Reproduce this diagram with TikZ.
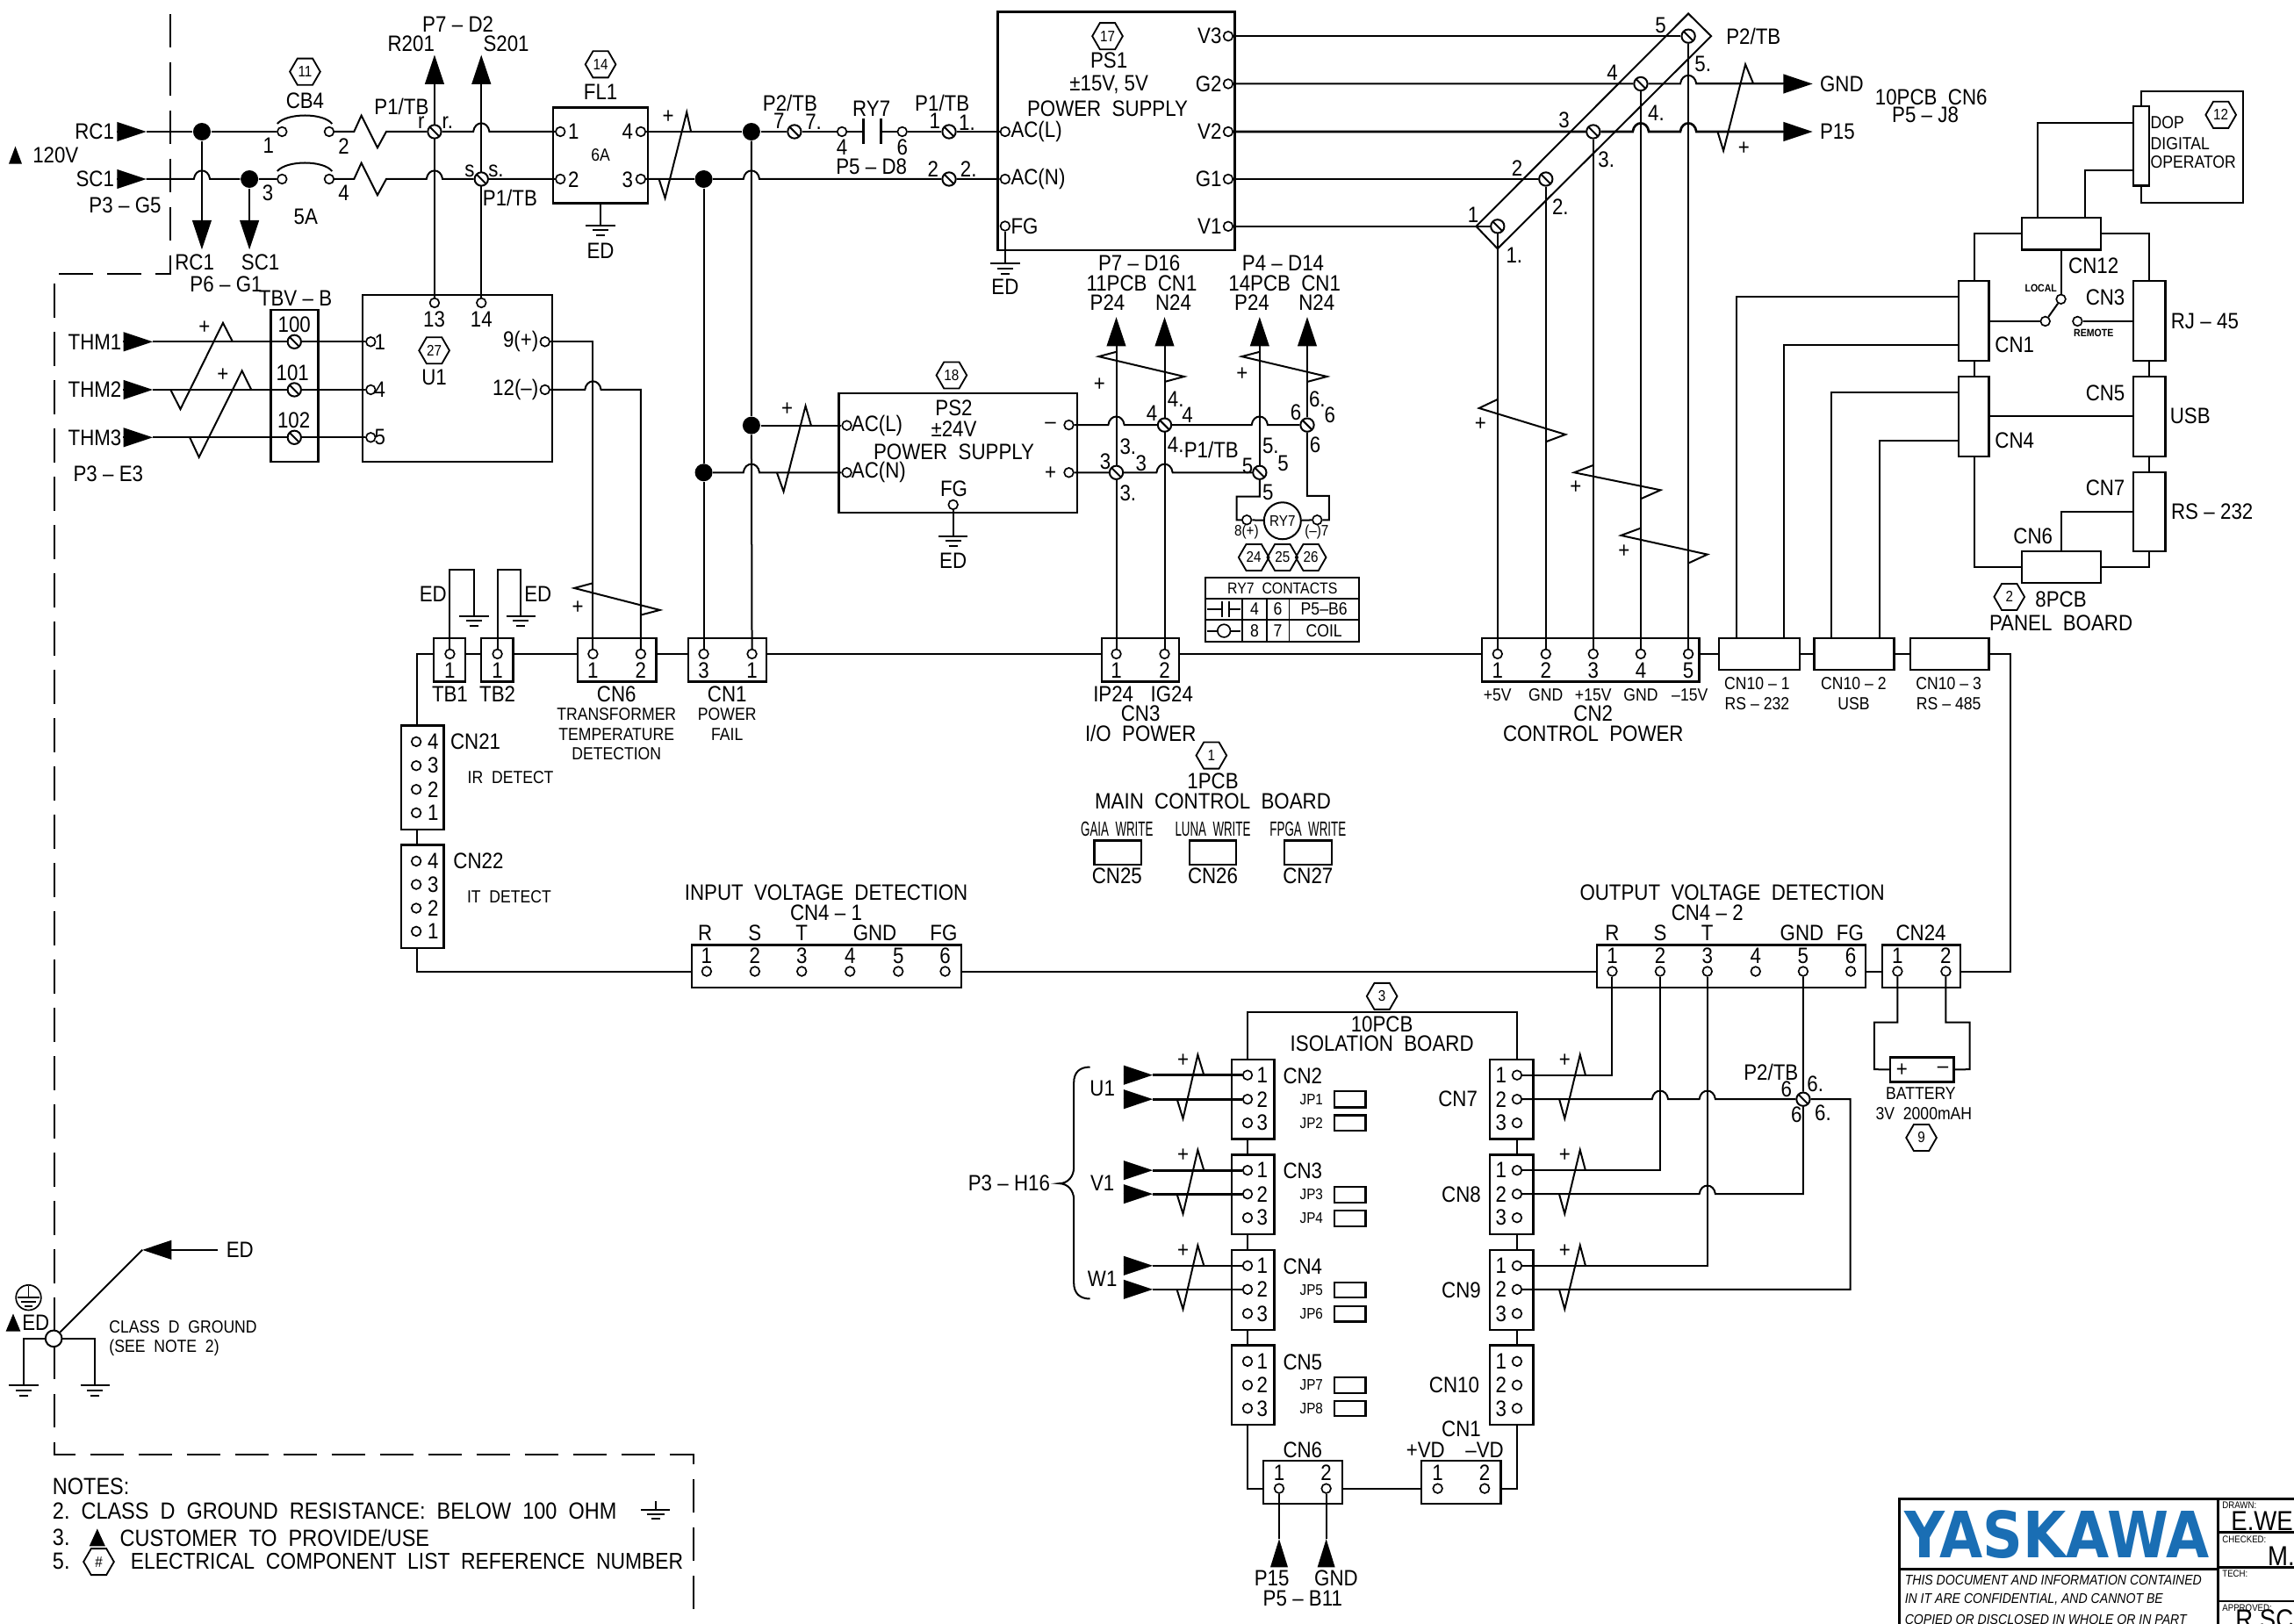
\documentclass[tikz,border=0pt]{standalone}
\usepackage{fontspec}
\usepackage{graphicx}
\setmainfont{Liberation Sans}[FakeStretch=0.88]
\newfontfamily\lgf{DejaVu Sans}
\usetikzlibrary{arrows.meta,shapes.geometric}
\pgfdeclarelayer{bgl}\pgfdeclarelayer{wires}\pgfsetlayers{bgl,wires,main}
\definecolor{yblue}{HTML}{1A6EB4}
\newcounter{lc}
\newcommand\lb[4][]{\stepcounter{lc}\node[lab,#1] (L\thelc) at (#2,#3) {#4};}
\newcommand\hexn[4]{\node[hexa] (#1) at (#2,#3) {#4};}
\newcommand\pn[3]{\node[pinn] (#1) at (#2,#3) {};}
\newcommand\scw[3]{\node[scr] (#1) at (#2,#3) {};}
\newcommand\jc[3]{\node[jct] (#1) at (#2,#3) {};}
\newcommand\cd[3]{\coordinate (#1) at (#2,#3);}
\newcommand\ds{\kern.25em--\kern.25em}
\newcommand\bxn[5]{\node[bx,minimum width={(#4-#2)*0.5pt},minimum height={(#5-#3)*0.5pt}] (#1) at ({(#2+#4)/2},{(#3+#5)/2}) {};}
\newcommand\gnd[2]{\draw[w] (#1-10,#2) -- (#1+10,#2) (#1-5.5,#2+3.5) -- (#1+5.5,#2+3.5) (#1-3,#2+7) -- (#1+3,#2+7);}
\def\hp#1#2{-- (#1-5.5,#2) .. controls (#1-4.5,#2-7.7) and (#1+4.5,#2-7.7) .. (#1+5.5,#2)}
\tikzset{
 lab/.style={inner sep=0pt,outer sep=0pt,align=center,font=\fontsize{7.6}{8}\selectfont},
 sm/.style={font=\fontsize{6}{6.5}\selectfont},
 xs/.style={font=\fontsize{5.2}{5.5}\selectfont},
 th/.style={font=\fontsize{5.4}{5.5}\selectfont},
 wr/.style={font=\fontsize{7}{7.5}\selectfont},
 tn/.style={font=\fontsize{3.6}{4}\bfseries\selectfont},
 it/.style={font=\fontsize{4.8}{5}\itshape\selectfont},
 tt/.style={font=\fontsize{3.3}{3.5}\selectfont},
 nt/.style={font=\fontsize{8}{8.5}\selectfont},
 bg/.style={font=\fontsize{9.4}{10}\selectfont},
 hexa/.style={draw,line width=0.55pt,regular polygon,regular polygon sides=6,minimum size=10.4pt,inner sep=0pt,font=\fontsize{5.2}{5.5}\selectfont},
 w/.style={line width=0.6pt},
 ar/.style={-{Triangle[length=10pt,width=6.5pt]}},
 bx/.style={draw,line width=0.7pt,inner sep=0pt,outer sep=0pt},
 pinn/.style={circle,draw,fill=white,line width=0.5pt,minimum size=3.2pt,inner sep=0pt},
 scr/.style={circle,draw,fill=white,line width=0.6pt,minimum size=4.6pt,inner sep=0pt,
   path picture={\draw[line width=0.6pt] (path picture bounding box.north west) -- (path picture bounding box.south east);}},
 jct/.style={circle,fill=black,minimum size=6pt,inner sep=0pt},
 dsh/.style={line width=0.6pt,dash pattern=on 11.5pt off 5pt},
}
\begin{document}
\begin{tikzpicture}[x=0.5pt,y=-0.5pt]
\useasboundingbox (0,0) rectangle (1568,1109.6);
\begin{pgfonlayer}{bgl}\fill[white] (0,0) rectangle (1568,1109.6);\end{pgfonlayer}
\clip (0,0) rectangle (1568,1109.6);
% ---- helper coordinates
\cd{busT}{0}{447}\cd{busB}{0}{664}\cd{isoL}{852.7}{0}\cd{isoR}{1036.9}{0}
\cd{bL}{285}{0}\cd{panL}{1349.6}{0}\cd{panR}{1469}{0}
% ---- top left
\cd{rc1b}{80}{90}\cd{rc1t}{100}{90}\cd{sc1b}{80}{122.4}\cd{sc1t}{100}{122.4}
\jc{jA}{138}{90}\jc{jB}{170.5}{122.4}
\cd{rcd}{138}{170.6}\cd{scd}{170.5}{170.6}
\pn{cbA}{192.8}{90}\pn{cbB}{225}{90}\pn{cbC}{192.8}{122.4}\pn{cbD}{225}{122.4}
\scw{scrR}{297}{90}\scw{scrS}{329}{122.4}
\cd{r201}{297}{37.5}\cd{s201}{329}{37.5}
\bxn{fl1box}{378}{73.5}{443}{139}
\pn{flA}{383}{90}\pn{flB}{383}{122.4}\pn{flD}{438}{90}\pn{flC}{438}{122.4}
\jc{jE}{513.6}{90}\jc{jF}{481}{122.4}\jc{jC}{513.6}{290.8}\jc{jD}{481}{323}
\scw{scr7}{543}{90}\pn{ryA}{575.5}{90}\pn{ryB}{616.7}{90}\scw{scr1}{648.7}{90}\scw{scr2}{648.7}{122.4}
\cd{cL}{590}{90}\cd{cR}{602}{90}
% ---- PS1
\bxn{ps1}{682}{8}{844}{171}
\pn{acL}{687}{90}\pn{acN}{687}{122.4}\pn{fg1}{687}{154.5}
\pn{v3}{839.5}{24.7}\pn{g2}{839.5}{57.3}\pn{v2}{839.5}{90}\pn{g1}{839.5}{122.4}\pn{v1}{839.5}{154.7}
\scw{t5}{1154}{24.7}\scw{t4}{1121.5}{57.3}\scw{t3}{1089}{90}\scw{t2}{1056.6}{122.4}\scw{t1}{1023.6}{154.7}
\cd{gndT}{1239}{57.3}\cd{p15T}{1239}{90}
% ---- TBV / U1
\cd{th1b}{84}{233.6}\cd{th1t}{104.4}{233.6}\cd{th2b}{84}{266.4}\cd{th2t}{104.4}{266.4}\cd{th3b}{84}{299}\cd{th3t}{104.4}{299}
\bxn{tbv}{185.2}{212}{217.6}{315.5}\bxn{u1}{248}{201.5}{377.6}{315.5}
\scw{tv0}{201.2}{233.6}\scw{tv1}{201.2}{266.4}\scw{tv2}{201.2}{299}
\pn{uA}{253.4}{233.6}\pn{uB}{253.4}{266.4}\pn{uC}{253.4}{299}
\pn{u13}{297}{207}\pn{u14}{329}{207}\pn{u9}{372.5}{233.6}\pn{u12}{372.5}{266.4}
% ---- PS2
\bxn{ps2}{573.4}{268.8}{736.4}{350.5}
\pn{ps2l}{578.8}{290.8}\pn{ps2n}{578.8}{323}\pn{ps2m}{730.6}{290.5}\pn{ps2p}{730.6}{323}\pn{ps2f}{651.5}{345}
\scw{t4b}{796}{290.5}\scw{t6b}{893.5}{290.5}\scw{t3b}{763}{323}\scw{t5b}{861}{323}
\cd{p24a}{763}{216.7}\cd{n24a}{796}{216.7}\cd{p24b}{861}{216.7}\cd{n24b}{893.5}{216.7}
\node[circle,draw,line width=0.6pt,minimum size=12.6pt,inner sep=0pt,font=\fontsize{5.2}{5.5}\selectfont] (ry7) at (876.6,356) {RY7};
\pn{ry8}{852.2}{355.4}\pn{ry77}{900.3}{355.4}
% ---- lower bus boxes
\bxn{tb1}{296.5}{436.4}{318}{466}\bxn{tb2}{329}{436.4}{350.7}{466}
\bxn{c6}{394.8}{436.4}{448.5}{466}\bxn{c1}{470.5}{436.4}{524}{466}\bxn{c3}{753}{436.4}{806}{466}
\bxn{c2}{1013}{436.4}{1161.5}{466}
\bxn{c101}{1175}{436.4}{1230}{458}\bxn{c102}{1240}{436.4}{1294.6}{458}\bxn{c103}{1305.6}{436.4}{1359.5}{458}
\pn{p1a}{307.5}{447}\pn{p2a}{340}{447}\pn{p6a}{405.3}{447}\pn{p6b}{438}{447}\pn{p13}{481}{447}\pn{p11}{514}{447}
\pn{p3a}{763}{447}\pn{p3b}{796}{447}
\pn{q1}{1023.6}{447}\pn{q2}{1056.6}{447}\pn{q3}{1089}{447}\pn{q4}{1121.5}{447}\pn{q5}{1154}{447}
\bxn{c21}{274.4}{496}{303.4}{567}\bxn{c22}{274.4}{577.6}{303.4}{648}
\foreach \n/\y in {a/507,b/523.4,c/539.6,d/555.6,e/588.6,f/604.6,g/620.8,h/636.6}{\pn{cn\n}{284.5}{\y}}
\bxn{w25}{748}{574.6}{780}{591}\bxn{w26}{813}{574.6}{845}{591}\bxn{w27}{878}{574.6}{910.5}{591}
\bxn{c41}{473}{646}{657}{675}\bxn{c42}{1091.5}{646}{1275}{675}\bxn{c24}{1286.7}{646}{1340}{675}
\foreach \x [count=\i] in {483,516,548,581,614,646}{\pn{ia\i}{\x}{664}}
\foreach \x [count=\i] in {1102,1134.7,1167,1200,1232.5,1265}{\pn{oa\i}{\x}{664}}
\pn{b1}{1297}{664}\pn{b2}{1330}{664}
\bxn{batt}{1291.8}{722.7}{1335.4}{739.5}
% ---- panel
\bxn{dopc}{1458}{72.7}{1469}{127}
\bxn{cn12}{1382}{149}{1436}{170.7}\bxn{pc1}{1338.6}{192}{1359.5}{246.7}\bxn{rj}{1458}{192}{1480}{246.7}
\bxn{pc4}{1338.6}{257.4}{1359.5}{312}\bxn{usb}{1458}{257.4}{1480}{312}\bxn{rs}{1458}{323}{1480}{377}
\bxn{pc6}{1382}{377}{1436}{398.5}
\pn{swA}{1398}{219.6}\pn{swB}{1408.7}{204.5}\pn{swC}{1420}{219.6}
% ---- isolation board
\foreach \n/\ya/\yb in {cn2/724.2/778.6,cn3/789.3/843.8,cn4/854.5/909,cn5/919.6/974}{\bxn{\n}{841.7}{\ya}{871}{\yb}}
\foreach \n/\ya/\yb in {cn7/724.2/778.6,cn8/789.3/843.8,cn9/854.5/909,cn10/919.6/974}{\bxn{\n}{1018.5}{\ya}{1048}{\yb}}
\foreach \n/\y in {a/734.9,b/751.4,c/767.6,d/800,e/816.2,f/832.4,g/865.2,h/881.4,i/897.9,j/930.6,k/946.8,l/962.7}{
  \pn{le\n}{852.7}{\y}\pn{ri\n}{1036.9}{\y}}
\foreach \dg/\y in {1/734.9,2/751.4,3/767.6,1/800,2/816.2,3/832.4,1/865.2,2/881.4,3/897.9,1/930.6,2/946.8,3/962.7}{
  \lb{862.8}{\y}{\dg}\lb{1026}{\y}{\dg}}
\foreach \ya/\yb/\tx [count=\i] in {746/757/JP1,762.4/773/JP2,811.3/822/JP3,827.5/838.3/JP4,876.5/887/JP5,892.7/903.4/JP6,941.6/952.3/JP7,957.8/968/JP8}{
  \bxn{jp\i}{912}{\ya}{933.5}{\yb}\lb[xs]{896.4}{{(\ya+\yb)/2}}{\tx}}
\bxn{c6b}{863.3}{998.5}{917.5}{1028}\bxn{c1b}{971.7}{998.5}{1025.9}{1028}
\pn{d1}{874.3}{1017.5}\pn{d2}{906.5}{1017.5}\pn{e1}{982.7}{1017.5}\pn{e2}{1014.8}{1017.5}
\cd{p15u}{874.3}{1052}\cd{gndu}{906.5}{1052}
\scw{t6c}{1232.5}{751.4}
% ---- ground point
\node[circle,draw,line width=0.6pt,minimum size=5.6pt,inner sep=0pt,fill=white] (edc) at (36.7,915) {};
\cd{edTip}{97.3}{854.4}\cd{edEnd}{149}{854.4}\node[lab] (edtxt) at (164,854.4) {ED};
% ---- wires
\begin{pgfonlayer}{wires}
\draw[w,ar] (rc1b) -- (rc1t); \draw[w,ar] (sc1b) -- (sc1t);
\draw[line width=0.85pt] (rc1t) -- (jA) -- (cbA);
\draw[w] (cbB) -- (242,90) -- (247,79) -- (258,101) -- (264,90) -- (scrR);
\draw[w] (scrR) \hp{329}{90} -- (flA);
\draw[w] (sc1t) \hp{138}{122.4} -- (jB) -- (cbC);
\draw[w] (cbD) -- (242,122.4) -- (247,111.4) -- (258,133.4) -- (264,122.4) \hp{297}{122.4} -- (scrS) -- (flB);
\draw[w,ar] (jA) -- (rcd); \draw[w,ar] (jB) -- (scd);
\draw[w,ar] (u13) -- (r201); \draw[w,ar] (u14) -- (s201);
\draw[w] (189.5,84.6) .. controls (196,77) and (221,77) .. (227,84.6);
\draw[w] (189.5,117) .. controls (196,109.4) and (221,109.4) .. (227,117);
\draw[w] (fl1box.south) -- (410.5,154); \gnd{410.5}{154}
\draw[line width=0.8pt] (flD) -- (jE) -- (scr7) -- (ryA) -- (cL);
\draw[w] (cR) -- (ryB) -- (scr1) -- (acL);
\draw[line width=0.8pt] (590,81) -- (590,98.6) (602,81) -- (602,98.6);
\draw[w] (flC) -- (jF) \hp{513.6}{122.4} -- (scr2) -- (acN);
\draw[w] (472.3,90) -- (469.4,76.7) -- (454.6,135.4) -- (450.4,122.4);
\draw[w] (jE) -- (jC) -- (p11); \draw[w] (jF) -- (jD) -- (p13);
\draw[w] (jC) -- (ps2l); \draw[w] (jD) \hp{513.6}{323} -- (ps2n);
\draw[w] (554.4,290.8) -- (550.6,277.5) -- (535.6,336) -- (531,323);
\draw[w] (fg1) -- (687,180); \gnd{687}{180}
% PS1 outputs
\draw[w] (v3) -- (t5); \draw[w] (v1) -- (t1); \draw[w] (g1) -- (t2);
\draw[w] (g2) -- (t4) \hp{1154}{57.3} -- (1219,57.3);
\draw[w,ar] (1160,57.3) -- (gndT);
\draw[line width=0.8pt] (v2) -- (t3) \hp{1121.5}{90} \hp{1154}{90} -- (1219,90);
\draw[w,ar] (1160,90) -- (p15T);
\draw[w] (1154,9.3) -- (1169.6,24.7) -- (1023.6,170) -- (1009,154.7) -- cycle;
\draw[w] (t5) -- (q5); \draw[w] (t4) -- (q4); \draw[w] (t3) -- (q3); \draw[w] (t2) -- (q2); \draw[w] (t1) -- (q1);
\draw[w] (1198.5,57.3) -- (1193,44) -- (1178,103) -- (1174,90);
\draw[w] (1023.6,273) -- (1011,279) -- (1070,297) -- (1056.6,302);
\draw[w] (1089,318) -- (1076,323) -- (1135,335) -- (1121.5,341);
\draw[w] (1121.5,361) -- (1108,366) -- (1167,379) -- (1154,385);
% THM
\draw[w,ar] (th1b) -- (th1t); \draw[w,ar] (th2b) -- (th2t); \draw[w,ar] (th3b) -- (th3t);
\draw[w] (th1t) -- (tv0) -- (uA); \draw[w] (th2t) -- (tv1) -- (uB); \draw[w] (th3t) -- (tv2) -- (uC);
\draw[w] (159,233.6) -- (152.4,220.7) -- (123.3,279.7) -- (116.6,266.4);
\draw[w] (171.8,266.4) -- (165.4,253.5) -- (136,312.5) -- (129.7,299);
\draw[w] (u9) -- (405.3,233.6) -- (p6a);
\draw[w] (u12) \hp{405.3}{266.4} -- (438,266.4) -- (p6b);
\draw[w] (405.3,398.6) -- (392.5,402) -- (451,417) -- (438,420.4);
% ED at TB
\draw[w] (p1a) -- (307.5,389.4) -- (324,389.4) -- (324,421); \gnd{324}{421}
\draw[w] (p2a) -- (340,389.4) -- (356,389.4) -- (356,421); \gnd{356}{421}
% PS2 outputs
\draw[w] (ps2f) -- (651.5,366.4); \gnd{651.5}{366.4}
\draw[w] (ps2m) \hp{763}{290.5} -- (t4b) \hp{861}{290.5} -- (t6b);
\draw[w] (ps2p) -- (t3b) \hp{796}{323} -- (t5b);
\draw[w,ar] (p3a) -- (p24a); \draw[w,ar] (p3b) -- (n24a);
\draw[w,ar] (t5b) -- (p24b); \draw[w,ar] (t6b) -- (n24b);
\draw[w] (763,240.5) -- (751,243.7) -- (809.4,257.4) -- (796,261);
\draw[w] (861,240.5) -- (848.8,243.7) -- (907,257.4) -- (893.5,261);
\draw[w] (t6b) -- (893.5,339) -- (908.4,339) -- (908.4,355.4) -- (ry77) -- (ry7);
\draw[w] (t5b) -- (861,339.4) -- (845.3,339.4) -- (845.3,355.4) -- (ry8) -- (ry7);
% bus
\draw[w] (c21.north -| bL) -- (bL |- busT) -- (tb1.west |- busT);
\draw[w] (tb1.east |- busT) -- (tb2.west |- busT);
\draw[w] (tb2.east |- busT) -- (c6.west |- busT);
\draw[w] (c6.east |- busT) -- (c1.west |- busT);
\draw[w] (c1.east |- busT) -- (c3.west |- busT);
\draw[w] (c3.east |- busT) -- (c2.west |- busT);
\draw[w] (c2.east |- busT) -- (c101.west |- busT);
\draw[w] (c101.east |- busT) -- (c102.west |- busT);
\draw[w] (c102.east |- busT) -- (c103.west |- busT);
\draw[w] (c103.east |- busT) -- (1374,447) -- (1374,664) -- (c24.east |- busB);
\draw[w] (c24.west |- busB) -- (c42.east |- busB);
\draw[w] (c42.west |- busB) -- (c41.east |- busB);
\draw[w] (c41.west |- busB) -- (bL |- busB) -- (c22.south -| bL);
\draw[w] (c21.south -| bL) -- (c22.north -| bL);
% panel
\draw[w] (1187,436.4) -- (1187,203) -- (1338.6,203);
\draw[w] (1219.4,436.4) -- (1219.4,236) -- (1338.6,236);
\draw[w] (1252,436.4) -- (1252,268.2) -- (1338.6,268.2);
\draw[w] (1284.8,436.4) -- (1284.8,301) -- (1338.6,301);
\draw[w] (1392.5,149) -- (1392.5,84) -- (1458,84);
\draw[w] (1425,149) -- (1425,116.3) -- (1458,116.3);
\draw[w] (1463.7,72.7) -- (1463.7,62.5) -- (1533,62.5) -- (1533,138.7) -- (1463.7,138.7) -- (1463.7,127);
\draw[w] (1382,159.7) -- (1349.6,159.7) -- (pc1.north -| panL);
\draw[w] (1436,159.7) -- (1469,159.7) -- (rj.north -| panR);
\draw[w] (pc1.south -| panL) -- (pc4.north -| panL);
\draw[w] (rj.south -| panR) -- (usb.north -| panR);
\draw[w] (usb.south -| panR) -- (rs.north -| panR);
\draw[w] (pc4.south -| panL) -- (1349.6,387.7) -- (1382,387.7);
\draw[w] (1436,387.7) -- (1469,387.7) -- (rs.south -| panR);
\draw[w] (1408.7,377) -- (1408.7,350) -- (1458,350);
\draw[w] (1359.5,284.5) -- (1458,284.5);
\draw[w] (1359.5,219.6) -- (swA);
\draw[w] (1408.7,170.7) -- (swB);
\draw[w] (swA) -- (swB);
\draw[w] (swC) -- (1458,219.6);
% isolation
\draw[w] (cn2.north -| isoL) -- (852.7,691.8) -- (1036.9,691.8) -- (cn7.north -| isoR);
\draw[w] (cn2.south -| isoL) -- (cn3.north -| isoL);
\draw[w] (cn3.south -| isoL) -- (cn4.north -| isoL);
\draw[w] (cn4.south -| isoL) -- (cn5.north -| isoL);
\draw[w] (cn7.south -| isoR) -- (cn8.north -| isoR);
\draw[w] (cn8.south -| isoR) -- (cn9.north -| isoR);
\draw[w] (cn9.south -| isoR) -- (cn10.north -| isoR);
\draw[w] (cn5.south -| isoL) -- (852.7,1017.5) -- (863.3,1017.5);
\draw[w] (917.5,1017.5) -- (971.7,1017.5);
\draw[w] (1025.9,1017.5) -- (1036.9,1017.5) -- (cn10.south -| isoR);
\draw[w] (p15u) -- (d1); \draw[w] (gndu) -- (d2);
\fill (874.3,1052) -- (868.3,1071.3) -- (880.3,1071.3) -- cycle;
\fill (906.5,1052) -- (900.5,1071.3) -- (912.5,1071.3) -- cycle;
\foreach \n/\y in {a/734.9,b/751.4,d/800,e/816.2,g/865.2,h/881.4}{
  \draw[w,ar] (767.8,\y) -- (788,\y);
  \draw[line width=0.8pt] (788,\y) -- (le\n);
}
\foreach \dd in {0,65.1,130.3}{
  \draw[w] (822.9,734.9+\dd) -- (818.7,721+\dd) -- (808.6,764.6+\dd) -- (804.5,751.4+\dd);
  \draw[w] (1083.7,734.9+\dd) -- (1080,721+\dd) -- (1069.5,764.6+\dd) -- (1065.8,751.4+\dd);
}
\draw[w] (rib) \hp{1134.7}{751.4} \hp{1167}{751.4} -- (t6c) -- (1264.7,751.4) -- (1264.7,881.4) -- (rih);
\draw[w] (rie) \hp{1167}{816.2} -- (1232.5,816.2) -- (t6c) -- (oa5);
\draw[w] (ria) -- (1102,734.9) -- (oa1);
\draw[w] (rid) -- (1134.7,800) -- (oa2);
\draw[w] (rig) -- (1167,865.2) -- (oa3);
\draw[w] (b1) -- (1297,698.8) -- (1281,698.8) -- (1281,731) -- (batt.west);
\draw[w] (b2) -- (1330,698.8) -- (1346.4,698.8) -- (1346.4,731) -- (batt.east);
% brace
\draw[w] (745,729.4) .. controls (738,729.4) and (734,733) .. (734,740) -- (734,798) .. controls (734,804) and (730,809) .. (724,809) .. controls (730,809) and (734,814) .. (734,820) -- (734,877) .. controls (734,884) and (738,887.8) .. (745,887.8);
% ground
\draw[w,ar] (edEnd) -- (edTip);
\draw[w] (edTip) -- (edc);
\draw[w] (edc) -- (16.3,915) -- (16.3,947); \gnd{16.3}{947}
\draw[w] (edc) -- (65,915) -- (65,947); \gnd{65}{947}
% dashed frame
\draw[dsh] (116.6,9.6) -- (116.6,187.5) -- (37,187.5) -- (37,994.4) -- (473.8,994.4) -- (473.8,1110);
\end{pgfonlayer}
% ---- labels, top left
\lb[anchor=east]{78}{90}{RC1}\lb[anchor=east]{78}{122.4}{SC1}
\fill (6,112) -- (15,112) -- (10.5,100) -- cycle;
\lb{38}{106}{120V}\lb{85.5}{140.4}{P3\ds G5}
\hexn{h11}{208.5}{49}{11}\lb{208.5}{68.6}{CB4}
\lb{183.5}{99.5}{1}\lb{235}{100}{2}\lb{183}{132}{3}\lb{235}{132}{4}\lb{209}{148}{5A}
\lb{274.5}{73}{P1/TB}\lb{288}{84}{r}\lb{306}{84}{r.}\lb{321}{117}{s}\lb{339}{117}{s.}\lb{348.6}{135}{P1/TB}
\lb{313}{16.7}{P7\ds D2}\lb{281}{30}{R201}\lb{346}{30}{S201}
\hexn{h14}{410.5}{44}{14}\lb{410.5}{63}{FL1}
\lb{392}{90}{1}\lb{392}{122.8}{2}\lb{429}{90}{4}\lb{429}{122.6}{3}\lb[sm]{410.5}{106}{6A}\lb{410.5}{171.5}{ED}
\lb{456.7}{79.7}{+}
\lb{133}{179}{RC1}\lb{178}{179}{SC1}\lb{154.5}{194}{P6\ds G1}
\lb{540}{70.7}{P2/TB}\lb{532.5}{82.5}{7}\lb{556}{83}{7.}\lb{595.7}{74}{RY7}\lb{575.5}{100.7}{4}\lb{616.7}{100.7}{6}\lb{595.7}{113.6}{P5\ds D8}
\lb{644}{70.7}{P1/TB}\lb{639}{82.5}{1}\lb{661}{84}{1.}\lb{637.8}{115.7}{2}\lb{662}{115.7}{2.}
% PS1
\hexn{h17}{757}{24.7}{17}\lb{758}{41}{PS1}\lb{758}{58}{±15V, 5V}\lb{757}{74}{POWER\ \ SUPPLY}
\lb[anchor=west]{691}{90}{AC(L)}\lb[anchor=west]{691}{122.4}{AC(N)}\lb[anchor=west]{691}{154.5}{FG}
\lb[anchor=east]{835}{24.7}{V3}\lb[anchor=east]{835}{57.3}{G2}\lb[anchor=east]{835}{90}{V2}\lb[anchor=east]{835}{122.4}{G1}\lb[anchor=east]{835}{154.7}{V1}
\lb{687}{196}{ED}
\lb{1135}{17.5}{5}\lb{1198.5}{24.7}{P2/TB}\lb{1164}{44}{5.}\lb{1102}{49.5}{4}\lb{1132}{77}{4.}\lb{1069}{82}{3}\lb{1098}{109}{3.}
\lb{1037}{115}{2}\lb{1066.5}{141.6}{2.}\lb{1007}{147}{1}\lb{1035}{174.5}{1.}
\lb[anchor=west]{1244}{57.3}{GND}\lb[anchor=west]{1244}{90}{P15}\lb{1320}{66.3}{10PCB\ \ CN6}\lb{1316}{78.5}{P5\ds J8}\lb{1192}{101.8}{+}
\lb{1012}{290}{+}\lb{1077}{333}{+}\lb{1110}{377}{+}
% U1
\lb{202}{204}{TBV\ds B}\lb{201.2}{222}{100}\lb{200}{255}{101}\lb{200.8}{287}{102}
\lb[anchor=east]{83}{233.6}{THM1}\lb[anchor=east]{83}{266.4}{THM2}\lb[anchor=east]{83}{299}{THM3}\lb{74}{323.6}{P3\ds E3}
\lb{139.8}{224}{+}\lb{152.4}{256.5}{+}
\lb{259.7}{233.6}{1}\lb{259.7}{266.4}{4}\lb{259.7}{299}{5}\lb{296.8}{218}{13}\lb{329}{218}{14}
\hexn{h27}{296.8}{239.6}{27}\lb{296.8}{258}{U1}
\lb[anchor=east]{368}{233.6}{9(+)}\lb[anchor=east]{368}{266.4}{12(--)}
% PS2
\hexn{h18}{650.4}{256.5}{18}\lb{652}{279}{PS2}\lb{652}{293}{±24V}\lb{652}{309}{POWER\ \ SUPPLY}\lb{652}{334}{FG}
\lb[anchor=west]{582}{290.8}{AC(L)}\lb[anchor=west]{582}{323}{AC(N)}\lb{718}{291}{--}\lb{718}{323.7}{+}\lb{651.5}{383.6}{ED}\lb{538}{280}{+}
\lb{778.7}{179.8}{P7\ds D16}\lb{780.4}{193.4}{11PCB\ \ CN1}\lb{757}{207}{P24}\lb{802}{207}{N24}
\lb{877}{179.8}{P4\ds D14}\lb{878}{193.4}{14PCB\ \ CN1}\lb{855.7}{207}{P24}\lb{900}{207}{N24}
\lb{751.5}{262.7}{+}\lb{849}{256}{+}
\lb{787.4}{282.7}{4}\lb{803.6}{272.8}{4.}\lb{811.7}{283.6}{4}\lb{803.6}{304}{4.}\lb{828}{307.7}{P1/TB}
\lb{868.5}{305}{5.}\lb{877}{316.5}{5}\lb{852.8}{318.5}{5}\lb{866.7}{336.8}{5}
\lb{885.8}{282}{6}\lb{900.3}{272.8}{6.}\lb{909}{283.6}{6}\lb{899}{304}{6}
\lb{755.5}{315.6}{3}\lb{771}{305.4}{3.}\lb{780}{316.5}{3}\lb{771}{336.8}{3.}
\lb[xs]{852}{363.6}{8(+)}\lb[xs]{900}{363.6}{(--)7}
\hexn{h24}{857}{381}{24}\hexn{h25}{876.6}{381}{25}\hexn{h26}{896}{381}{26}
% table
\bxn{tab}{824}{394.7}{929}{438.6}
\draw[w] (824,409.2) -- (929,409.2) (824,423.8) -- (929,423.8) (849.3,409.2) -- (849.3,438.6) (865.6,409.2) -- (865.6,438.6) (881.2,409.2) -- (881.2,438.6);
\lb[th]{876.6}{402}{RY7\ \ CONTACTS}
\lb[sm]{857.5}{416.5}{4}\lb[sm]{873.4}{416.5}{6}\lb[sm]{905}{416.5}{P5--B6}
\lb[sm]{857.5}{431.2}{8}\lb[sm]{873.4}{431.2}{7}\lb[sm]{905}{431.2}{COIL}
\draw[w] (825,416.5) -- (835.5,416.5) (835.5,411) -- (835.5,422) (840,411) -- (840,422) (840,416.5) -- (848,416.5);
\node[circle,draw,line width=0.5pt,minimum size=4.4pt,inner sep=0pt] (tcoil) at (836.6,431.2) {};
\draw[w] (825,431.2) -- (tcoil) -- (848,431.2);
% bus labels
\lb{307.5}{458.4}{1}\lb{340}{458.4}{1}\lb{405.3}{458.4}{1}\lb{438}{458.4}{2}\lb{481}{458.4}{3}\lb{514}{458.4}{1}\lb{763}{458.4}{1}\lb{796}{458.4}{2}
\lb{1023.6}{458.4}{1}\lb{1056.6}{458.4}{2}\lb{1089}{458.4}{3}\lb{1121.5}{458.4}{4}\lb{1154}{458.4}{5}
\lb{307.5}{474.4}{TB1}\lb{340}{474.4}{TB2}\lb{421.4}{474.4}{CN6}\lb{497}{474.4}{CN1}
\lb[sm]{421.4}{488.4}{TRANSFORMER}\lb[sm]{421.4}{501.8}{TEMPERATURE}\lb[sm]{421.4}{515}{DETECTION}
\lb[sm]{497}{488.4}{POWER}\lb[sm]{497}{501.8}{FAIL}
\lb{761}{474.4}{IP24}\lb{801}{474.4}{IG24}\lb{779.6}{488}{CN3}\lb{779.6}{501.6}{I/O\ \ POWER}
\hexn{h1}{828}{516.4}{1}\lb{829}{534}{1PCB}\lb{829}{548}{MAIN\ \ CONTROL\ \ BOARD}
\lb[wr]{763.5}{566.6}{\scalebox{0.65}[1]{GAIA\ \ WRITE}}\lb[wr]{829}{566.6}{\scalebox{0.65}[1]{LUNA\ \ WRITE}}\lb[wr]{894}{566.6}{\scalebox{0.65}[1]{FPGA\ \ WRITE}}
\lb{763.5}{599}{CN25}\lb{829}{599}{CN26}\lb{894}{599}{CN27}
\lb[sm]{1023.6}{474.8}{+5V}\lb[sm]{1056.6}{474.8}{GND}\lb[sm]{1089}{474.8}{+15V}\lb[sm]{1121.5}{474.8}{GND}\lb[sm]{1155}{474.8}{--15V}
\lb{1089}{488}{CN2}\lb{1089}{501.5}{CONTROL\ \ POWER}
\lb[sm]{1201}{467}{CN10\ds 1}\lb[sm]{1201}{481}{RS\ds 232}\lb[sm]{1267}{467}{CN10\ds 2}\lb[sm]{1267}{481}{USB}\lb[sm]{1332}{467}{CN10\ds 3}\lb[sm]{1332}{481}{RS\ds 485}
% CN21
\foreach \dg/\y in {4/507,3/523.4,2/539.6,1/555.6,4/588.6,3/604.6,2/620.8,1/636.6}{\lb{296}{\y}{\dg}}
\lb{325}{507}{CN21}\lb[sm]{349}{531.6}{IR\ \ DETECT}\lb{327}{588.6}{CN22}\lb[sm]{348}{613}{IT\ \ DETECT}
\lb{296}{406}{ED}\lb{367.7}{406}{ED}\lb{395}{415.6}{+}
% CN4-1
\lb{564.7}{610.4}{INPUT\ \ VOLTAGE\ \ DETECTION}\lb{564.7}{624}{CN4\ds 1}
\foreach \tx/\x in {R/482,S/516,T/548,GND/598,FG/645}{\lb{\x}{637.6}{\tx}}
\foreach \dg/\x in {1/483,2/516,3/548,4/581,5/614,6/646}{\lb{\x}{653.5}{\dg}}
\lb{1184}{610.4}{OUTPUT\ \ VOLTAGE\ \ DETECTION}\lb{1167}{624}{CN4\ds 2}
\foreach \tx/\x in {R/1102,S/1134.7,T/1167,GND/1231.6,FG/1264.6}{\lb{\x}{637.6}{\tx}}
\foreach \dg/\x in {1/1102,2/1134.7,3/1167,4/1200,5/1232.5,6/1265}{\lb{\x}{653.5}{\dg}}
\lb{1313}{637.6}{CN24}\lb{1297}{653.5}{1}\lb{1330}{653.5}{2}
\lb{1300}{731.6}{+}\lb{1328}{731.6}{--}\lb[sm]{1312.9}{747.7}{BATTERY}\lb[sm]{1315}{761}{3V\ \ 2000mAH}\hexn{h9}{1313.3}{777.7}{9}
% panel labels
\lb[sm,anchor=west]{1470}{84}{DOP}\lb[sm,anchor=west]{1470}{98}{DIGITAL}\lb[sm,anchor=west]{1470}{110.5}{OPERATOR}\hexn{h12}{1518}{78.5}{12}
\lb{1431}{181.8}{CN12}\lb[tn]{1395}{197}{LOCAL}\lb{1439}{203}{CN3}\lb[tn]{1431}{227.7}{REMOTE}\lb{1507}{219.6}{RJ\ds 45}
\lb{1377}{235.6}{CN1}\lb{1439}{268.5}{CN5}\lb{1497}{284.5}{USB}\lb{1377}{301}{CN4}\lb{1439}{333.6}{CN7}\lb{1512}{350}{RS\ds 232}
\lb{1389.6}{366.5}{CN6}\hexn{h2}{1373.4}{408}{2}\lb{1408.7}{409.5}{8PCB}\lb{1408.7}{426}{PANEL\ \ BOARD}
% isolation labels
\hexn{h3}{944.6}{681}{3}\lb{944.6}{700}{10PCB}\lb{944.6}{713.5}{ISOLATION\ \ BOARD}
\lb{890.4}{735.5}{CN2}\lb{890.4}{800.3}{CN3}\lb{890.4}{865.8}{CN4}\lb{890.4}{931.2}{CN5}
\lb{996.5}{751.4}{CN7}\lb{998.8}{816.5}{CN8}\lb{998.8}{881.7}{CN9}\lb{994}{947}{CN10}
\lb{753.5}{743.8}{U1}\lb{753.5}{809}{V1}\lb{753.5}{874}{W1}\lb{689.7}{809}{P3\ds H16}
\foreach \dd in {0,65.1,130.3}{\lb{808.6}{724.8+\dd}{+}\lb{1069.5}{724.8+\dd}{+}}
\lb{890.4}{990.9}{CN6}\lb{998.8}{977}{CN1}\lb{974.4}{991}{+VD}\lb{1014.8}{991}{--VD}
\lb{874.3}{1006.7}{1}\lb{906.5}{1006.7}{2}\lb{982.7}{1006.7}{1}\lb{1014.8}{1006.7}{2}
\lb{869.3}{1079}{P15}\lb{913.3}{1079}{GND}\lb{890.4}{1092.7}{P5\ds B11}
\lb{1210.5}{733}{P2/TB}\lb{1221}{744.7}{6}\lb{1240.8}{740.7}{6.}\lb{1228}{762}{6}\lb{1246}{760.6}{6.}
% ground legend
\node[circle,draw,line width=0.5pt,minimum size=8.6pt,inner sep=0pt] (earth) at (19.5,887) {};
\draw[line width=0.5pt] (19.5,879) -- (19.5,887) (12,887) -- (27,887) (14.5,890) -- (24.5,890) (17,893) -- (22,893);
\fill (4,910) -- (14,910) -- (9,898) -- cycle;
\lb{24.5}{904.4}{ED}
\lb[sm,anchor=west]{74.7}{907}{CLASS\ \ D\ \ GROUND}\lb[sm,anchor=west]{74.7}{921}{(SEE\ \ NOTE\ \ 2)}
% notes
\lb[nt,anchor=west]{36}{1016.4}{NOTES:}
\lb[nt,anchor=west]{36}{1033}{2.\ \ CLASS\ \ D\ \ GROUND\ \ RESISTANCE:\ \ BELOW\ \ 100\ \ OHM}
\draw[w] (448,1026) -- (448,1032) (438,1032) -- (458,1032) (442,1035) -- (454,1035) (445,1038) -- (451,1038);
\lb[nt,anchor=west]{36}{1051}{3.}\fill (61,1057) -- (72,1057) -- (66.5,1045) -- cycle;
\lb[nt,anchor=west]{82}{1051}{CUSTOMER\ \ TO\ \ PROVIDE/USE}
\lb[nt,anchor=west]{36}{1067}{5.}\hexn{hn}{67.5}{1067.6}{\itshape\#}
\lb[lab,font=\fontsize{7.8}{8}\selectfont,anchor=west]{89.4}{1067}{ELECTRICAL\ \ COMPONENT\ \ LIST\ \ REFERENCE\ \ NUMBER}
% title block
\draw[line width=0.9pt] (1298.2,1112) -- (1298.2,1024.7) -- (1570,1024.7);
\draw[line width=0.9pt] (1298.2,1072.5) -- (1516.1,1072.5) (1516.1,1024.7) -- (1516.1,1112);
\draw[line width=0.8pt] (1516.1,1047.5) -- (1570,1047.5) (1516.1,1071.5) -- (1570,1071.5) (1516.1,1094.5) -- (1570,1094.5);
\node[inner sep=0pt,text=yblue] (logo) at (1406,1049) {\resizebox{104pt}{16.2pt}{\lgf\bfseries YASKAWA}};
\lb[it,anchor=west]{1302}{1080}{THIS DOCUMENT AND INFORMATION CONTAINED}
\lb[it,anchor=west]{1302}{1093.5}{IN IT ARE CONFIDENTIAL, AND CANNOT BE}
\lb[it,anchor=west]{1302}{1107}{COPIED OR DISCLOSED IN WHOLE OR IN PART}
\lb[tt,anchor=west]{1519}{1029}{DRAWN:}
\lb[tt,anchor=west]{1519}{1052.5}{CHECKED:}
\lb[tt,anchor=west]{1519}{1076}{TECH:}
\lb[tt,anchor=west]{1519}{1099}{APPROVED:}
\lb[bg,anchor=west]{1525}{1039.5}{E.WEIS}\lb[bg,anchor=west]{1550}{1063.5}{M.}\lb[bg,anchor=west]{1528}{1107}{R.SCH}
\end{tikzpicture}
\end{document}
